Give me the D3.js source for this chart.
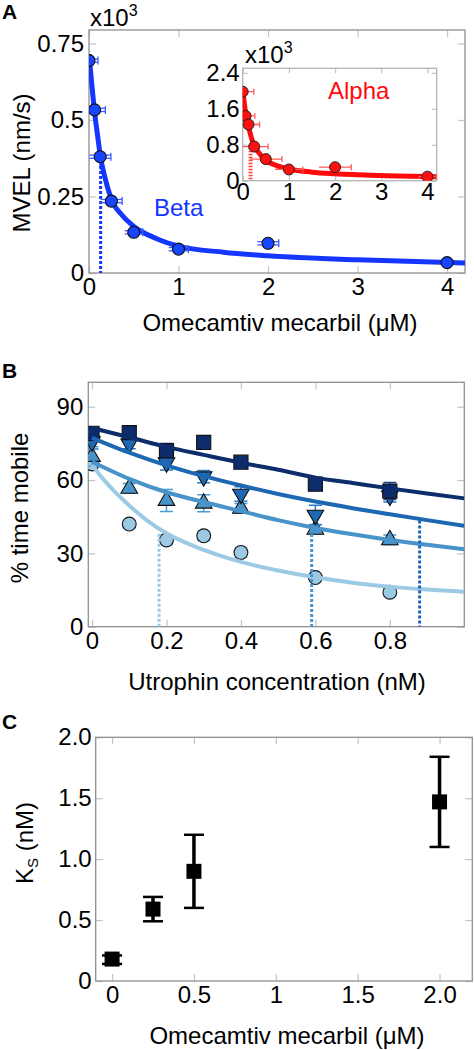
<!DOCTYPE html>
<html><head><meta charset="utf-8">
<script src="https://cdn.jsdelivr.net/npm/d3@7/dist/d3.min.js"></script>
<style>
body{margin:0;background:#fff;}
svg{display:block;font-family:"Liberation Sans",Arial,Helvetica,sans-serif;}
</style></head>
<body>
<svg id="chart" width="474" height="1050"></svg>
<script>
// ---------- Panel A data (MVEL, x10^3 nm/s) ----------
const omConc = [0, 0.0625, 0.125, 0.25, 0.5, 1, 2, 4];
const betaMVEL = [0.694, 0.533, 0.38, 0.235, 0.133, 0.078, 0.097, 0.034];
const betaXErr = [0.1, 0.12, 0.12, 0.12, 0.1, 0.11, 0.12, 0.03];
const betaFitX = [0, 0.03, 0.0625, 0.1, 0.125, 0.18, 0.27, 0.35, 0.5, 0.75, 1, 1.5, 2, 3, 4.2];
const betaFitY = [0.715, 0.62, 0.525, 0.44, 0.385, 0.31, 0.228, 0.195, 0.152, 0.113, 0.088, 0.068, 0.056, 0.043, 0.033];
const betaKi = 0.13, betaKiTop = 0.35;

const alphaMVEL = [1.98, 1.44, 1.25, 0.76, 0.48, 0.25, 0.30, 0.09];
const alphaXErr = [0.24, 0.2, 0.24, 0.3, 0.35, 0.3, 0.35, 0.2];
const alphaFitX = [0, 0.05, 0.12, 0.23, 0.35, 0.48, 0.75, 1, 1.5, 2, 3, 4.2];
const alphaFitY = [2.05, 1.6, 1.24, 0.82, 0.62, 0.47, 0.33, 0.26, 0.19, 0.155, 0.115, 0.09];
const alphaKi = 0.17, alphaKiTop = 0.8;

const aXTicks = [0, 1, 2, 3, 4];
const aYTicks = [0, 0.25, 0.5, 0.75];
const aYTickLabels = ["0", "0.25", "0.5", "0.75"];
const insetYTicks = [0, 0.8, 1.6, 2.4];
const insetYTickLabels = ["0", "0.8", "1.6", "2.4"];

// ---------- Panel B data (% time mobile) ----------
const utrConc = [0, 0.1, 0.2, 0.3, 0.4, 0.6, 0.8];
const seriesSquare = [79.1, 79.4, 72.0, 75.4, 67.3, 58.3, 55.5];
const errSquare = [2, 2, 3, 2.5, 1.5, 1.5, 3.5];
const seriesDown = [75.7, 74.8, 67.1, 61.4, 54.3, 45.7, 53.5];
const errDown = [3, 2, 3, 2.5, 3, 4, 2.5];
const seriesUp = [69.6, 56.6, 51.6, 50.5, 48.4, 39.8, 35.5];
const errUp = [4, 2, 4.5, 3.5, 2, 2, 2];
const seriesCircle = [66.6, 42.0, 35.5, 37.2, 30.4, 20.1, 14.1];
const errCircle = [2, 1.5, 2, 2, 2, 1.5, 1.5];

const fitX = [0, 0.1, 0.2, 0.3, 0.4, 0.5, 0.6, 0.7, 0.8, 0.9, 1.0];
const fitSquare = [81.3, 77.5, 73.6, 70.3, 67.1, 64.2, 61.0, 58.8, 56.6, 54.5, 52.5];
const fitDown = [77.3, 71.2, 66.0, 61.6, 57.8, 54.3, 51.2, 48.5, 46.0, 43.6, 41.3];
const fitUp = [67.5, 60.5, 55.0, 51.0, 47.3, 43.6, 40.4, 37.8, 35.5, 33.5, 31.7];
const fitCircleX = [0, 0.025, 0.05, 0.1, 0.15, 0.2, 0.3, 0.4, 0.5, 0.6, 0.7, 0.8, 0.9, 1.0];
const fitCircle = [66.2, 61.3, 57.0, 49.6, 43.2, 38.2, 31.4, 26.5, 23.0, 20.2, 18.0, 16.4, 15.2, 14.3];
const ksMarks = [0.18, 0.59, 0.88];
const ksMarkTops = [38, 40, 43.5];

const bXTicks = [0, 0.2, 0.4, 0.6, 0.8];
const bXTickLabels = ["0", "0.2", "0.4", "0.6", "0.8"];
const bYTicks = [0, 30, 60, 90];

// ---------- Panel C data (Ks, nM) ----------
const omC = [0, 0.25, 0.5, 2.0];
const ksVal = [0.18, 0.59, 0.9, 1.47];
const ksLo = [0.14, 0.49, 0.6, 1.1];
const ksHi = [0.21, 0.69, 1.2, 1.84];
const cXTicks = [0, 0.5, 1, 1.5, 2];
const cXTickLabels = ["0", "0.5", "1", "1.5", "2.0"];
const cYTicks = [0, 0.5, 1, 1.5, 2];
const cYTickLabels = ["0", "0.5", "1.0", "1.5", "2.0"];

// ---------- styling ----------
const FS = 24;
const frameColor = "#8f8f8f";
const tickColor = "#c4c4c4";
const blue = "#1437ff";
const red = "#ff0a0a";
const cNavy = "#0c2c6c", cMid = "#1d67b3", cLight3 = "#4893c9", cLight4 = "#9ccae5";

const svg = d3.select("#chart");

function frameAxes(g, x, y, opts) {
  const [x0, x1] = x.range(), [y0, y1] = y.range();
  const tl = opts.tickLen || 7;
  const bottom = d3.axisBottom(x).tickValues(opts.xTicks).tickSizeInner(-tl).tickSizeOuter(0)
    .tickPadding(opts.xPad).tickFormat((d, i) => opts.xLabels ? opts.xLabels[i] : d);
  const left = d3.axisLeft(y).tickValues(opts.yTicks).tickSizeInner(-tl).tickSizeOuter(0)
    .tickPadding(opts.yPad).tickFormat((d, i) => opts.yLabels ? opts.yLabels[i] : d);
  const top = d3.axisTop(x).tickValues(opts.xTicks).tickSizeInner(-tl).tickSizeOuter(0).tickFormat("");
  const right = d3.axisRight(y).tickValues(opts.yTicks).tickSizeInner(-tl).tickSizeOuter(0).tickFormat("");
  const gb = g.append("g").attr("transform", `translate(0,${y0})`).call(bottom);
  const gl = g.append("g").attr("transform", `translate(${x0},0)`).call(left);
  const gt = g.append("g").attr("transform", `translate(0,${y1})`).call(top);
  const gr = g.append("g").attr("transform", `translate(${x1},0)`).call(right);
  [gb, gl, gt, gr].forEach(a => {
    a.select(".domain").remove();
    a.selectAll(".tick line").attr("stroke", tickColor).attr("stroke-width", 1.2);
    a.selectAll(".tick text").attr("font-size", opts.fs || FS).attr("fill", "#000")
      .attr("font-family", '"Liberation Sans",Arial,sans-serif');
  });
  g.append("rect").attr("x", x0).attr("y", y1).attr("width", x1 - x0).attr("height", y0 - y1)
    .attr("fill", "none").attr("stroke", opts.frame || frameColor).attr("stroke-width", 1.3);
}

function panelLabel(txt, x, y) {
  svg.append("text").attr("x", x).attr("y", y).attr("font-size", 21).attr("font-weight", "bold").text(txt);
}
function axisTitle(txt, x, y, rot) {
  const t = svg.append("text").attr("font-size", FS).attr("text-anchor", "middle");
  if (rot) t.attr("transform", `translate(${x},${y}) rotate(-90)`);
  else t.attr("x", x).attr("y", y);
  t.text(txt);
  return t;
}
function times103(x, y) {
  const t = svg.append("text").attr("x", x).attr("y", y).attr("font-size", FS);
  t.append("tspan").text("x10");
  t.append("tspan").attr("font-size", 16).attr("dy", -10).text("3");
}

// ================= Panel A =================
const xA = d3.scaleLinear().domain([0, 4.2]).range([89, 465]);
const yA = d3.scaleLinear().domain([0, 0.794]).range([273, 30]);
const gA = svg.append("g");
frameAxes(gA, xA, yA, { xTicks: aXTicks, yTicks: aYTicks, yLabels: aYTickLabels, xPad: 5, yPad: 5 });

const clipA = svg.append("clipPath").attr("id", "clipA").append("rect")
  .attr("x", 89).attr("y", 30).attr("width", 376).attr("height", 243);

const lineA = d3.line().x((d, i) => xA(betaFitX[i])).y(d => yA(d)).curve(d3.curveMonotoneX);
const pA = gA.append("g").attr("clip-path", "url(#clipA)");
pA.append("line").attr("x1", xA(betaKi)).attr("x2", xA(betaKi)).attr("y1", yA(betaKiTop)).attr("y2", yA(0))
  .attr("stroke", blue).attr("stroke-width", 3).attr("stroke-dasharray", "3,2");
pA.append("path").attr("d", lineA(betaFitY)).attr("fill", "none").attr("stroke", blue).attr("stroke-width", 5);
omConc.forEach((c, i) => {
  const yy = yA(betaMVEL[i]);
  const xl = xA(Math.max(0, c - betaXErr[i])), xr = xA(c + betaXErr[i]);
  pA.append("line").attr("x1", xl).attr("x2", xr).attr("y1", yy - 1.6).attr("y2", yy - 1.6).attr("stroke", "#3a5cff").attr("stroke-width", 1.3);
  pA.append("line").attr("x1", xl).attr("x2", xr).attr("y1", yy + 1.6).attr("y2", yy + 1.6).attr("stroke", "#3a5cff").attr("stroke-width", 1.3);
  pA.append("line").attr("x1", xr).attr("x2", xr).attr("y1", yy - 4).attr("y2", yy + 4).attr("stroke", "#3a5cff").attr("stroke-width", 1.3);
});
pA.selectAll("circle.beta").data(betaMVEL).enter().append("circle")
  .attr("cx", (d, i) => xA(omConc[i])).attr("cy", d => yA(d)).attr("r", 6)
  .attr("fill", "#1846ff").attr("stroke", "#111").attr("stroke-width", 1.1);
svg.append("text").attr("x", 154).attr("y", 216).attr("font-size", FS).attr("fill", blue).text("Beta");
times103(90, 26);

// inset
const xI = d3.scaleLinear().domain([0, 4.2]).range([242.7, 436.7]);
const yI = d3.scaleLinear().domain([0, 2.5]).range([180.7, 68.3]);
const gI = svg.append("g");
gI.append("rect").attr("x", 242.7).attr("y", 68.3).attr("width", 194).attr("height", 112.4).attr("fill", "#fff");
frameAxes(gI, xI, yI, { xTicks: aXTicks, yTicks: insetYTicks, yLabels: insetYTickLabels, xPad: 2, yPad: 3, frame: "#b5b5b5", tickLen: 5 });
svg.append("clipPath").attr("id", "clipI").append("rect")
  .attr("x", 242.7).attr("y", 68.3).attr("width", 194).attr("height", 112.4);
const pI = gI.append("g").attr("clip-path", "url(#clipI)");
pI.append("line").attr("x1", xI(alphaKi)).attr("x2", xI(alphaKi)).attr("y1", yI(alphaKiTop)).attr("y2", yI(0))
  .attr("stroke", "#ff4040").attr("stroke-width", 4).attr("stroke-dasharray", "1.5,1.5");
const lineI = d3.line().x((d, i) => xI(alphaFitX[i])).y(d => yI(d)).curve(d3.curveMonotoneX);
pI.append("path").attr("d", lineI(alphaFitY)).attr("fill", "none").attr("stroke", red).attr("stroke-width", 5);
omConc.forEach((c, i) => {
  const yy = yI(alphaMVEL[i]);
  const xl = xI(Math.max(0, c - alphaXErr[i])), xr = xI(c + alphaXErr[i]);
  pI.append("line").attr("x1", xl).attr("x2", xr).attr("y1", yy).attr("y2", yy).attr("stroke", "#ff5a5a").attr("stroke-width", 1.3);
  pI.append("line").attr("x1", xr).attr("x2", xr).attr("y1", yy - 3).attr("y2", yy + 3).attr("stroke", "#ff5a5a").attr("stroke-width", 1.3);
});
pI.selectAll("circle.alpha").data(alphaMVEL).enter().append("circle")
  .attr("cx", (d, i) => xI(omConc[i])).attr("cy", d => yI(d)).attr("r", 5.5)
  .attr("fill", "#ff1010").attr("stroke", "#222").attr("stroke-width", 1);
svg.append("text").attr("x", 328).attr("y", 99).attr("font-size", FS).attr("fill", red).text("Alpha");
times103(245, 63);

axisTitle("Omecamtiv mecarbil (μM)", 280, 331, false);
axisTitle("MVEL (nm/s)", 30, 163, true);
panelLabel("A", 2, 19);

// ================= Panel B =================
const xB = d3.scaleLinear().domain([-0.01, 1.0]).range([88.3, 464.3]);
const yB = d3.scaleLinear().domain([0, 100]).range([626.7, 382.3]);
const gB = svg.append("g");
frameAxes(gB, xB, yB, { xTicks: bXTicks, xLabels: bXTickLabels, yTicks: bYTicks, xPad: 5, yPad: 5 });
svg.append("clipPath").attr("id", "clipB").append("rect")
  .attr("x", 88.3).attr("y", 382.3).attr("width", 376).attr("height", 244.4);
const pB = gB.append("g").attr("clip-path", "url(#clipB)");

const seriesB = [
  { vals: seriesCircle, err: errCircle, fill: cLight4, errC: "#8cc3e6", shape: d3.symbolCircle, size: 150, rot: 0 },
  { vals: seriesUp, err: errUp, fill: cLight3, errC: "#4a9ad6", shape: d3.symbolTriangle, size: 120, rot: 0 },
  { vals: seriesDown, err: errDown, fill: cMid, errC: "#2a78c8", shape: d3.symbolTriangle, size: 120, rot: 180 },
  { vals: seriesSquare, err: errSquare, fill: cNavy, errC: "#1d3f86", shape: d3.symbolSquare, size: 200, rot: 0 }
];
seriesB.forEach(s => {
  utrConc.forEach((c, i) => {
    const xx = xB(c), lo = yB(s.vals[i] - s.err[i]), hi = yB(s.vals[i] + s.err[i]);
    pB.append("line").attr("x1", xx).attr("x2", xx).attr("y1", lo).attr("y2", hi).attr("stroke", s.errC).attr("stroke-width", 1.5);
    [lo, hi].forEach(yy => pB.append("line").attr("x1", xx - 6.5).attr("x2", xx + 6.5).attr("y1", yy).attr("y2", yy)
      .attr("stroke", s.errC).attr("stroke-width", 1.5));
  });
  pB.selectAll(null).data(s.vals).enter().append("path")
    .attr("d", d3.symbol().type(s.shape).size(s.size))
    .attr("transform", (d, i) => `translate(${xB(utrConc[i])},${yB(d)}) rotate(${s.rot})`)
    .attr("fill", s.fill).attr("stroke", "#111").attr("stroke-width", 1.1);
});
const fitsB = [
  { xs: fitCircleX, ys: fitCircle, c: cLight4 },
  { xs: fitX, ys: fitUp, c: cLight3 },
  { xs: fitX, ys: fitDown, c: cMid },
  { xs: fitX, ys: fitSquare, c: cNavy }
];
fitsB.forEach(f => {
  const ln = d3.line().x((d, i) => xB(f.xs[i])).y(d => yB(d)).curve(d3.curveMonotoneX);
  pB.append("path").attr("d", ln(f.ys)).attr("fill", "none").attr("stroke", f.c).attr("stroke-width", 4);
});
const ksColors = [cLight4, cLight3, cMid];
ksMarks.forEach((k, i) => {
  pB.append("line").attr("x1", xB(k)).attr("x2", xB(k)).attr("y1", yB(ksMarkTops[i])).attr("y2", yB(0))
    .attr("stroke", ksColors[i]).attr("stroke-width", 3).attr("stroke-dasharray", "3,2");
});
axisTitle("Utrophin concentration (nM)", 277, 690, false);
axisTitle("% time mobile", 28, 508, true);
panelLabel("B", 2, 378);

// ================= Panel C =================
const xC = d3.scaleLinear().domain([-0.1, 2.2]).range([95.7, 472.3]);
const yC = d3.scaleLinear().domain([0, 2]).range([981, 737.3]);
const gC = svg.append("g");
frameAxes(gC, xC, yC, { xTicks: cXTicks, xLabels: cXTickLabels, yTicks: cYTicks, yLabels: cYTickLabels, xPad: 5, yPad: 4 });
omC.forEach((c, i) => {
  const xx = xC(c), lo = yC(ksLo[i]), hi = yC(ksHi[i]);
  gC.append("line").attr("x1", xx).attr("x2", xx).attr("y1", lo).attr("y2", hi).attr("stroke", "#000").attr("stroke-width", 3.5);
  [lo, hi].forEach(yy => gC.append("line").attr("x1", xx - 10).attr("x2", xx + 10).attr("y1", yy).attr("y2", yy)
    .attr("stroke", "#000").attr("stroke-width", 2.5));
});
gC.selectAll(null).data(ksVal).enter().append("rect")
  .attr("x", (d, i) => xC(omC[i]) - 7.5).attr("y", d => yC(d) - 7.5)
  .attr("width", 15).attr("height", 15).attr("fill", "#000");
const ksTitle = svg.append("text").attr("font-size", FS).attr("text-anchor", "middle")
  .attr("transform", "translate(33,843) rotate(-90)");
ksTitle.append("tspan").text("K");
ksTitle.append("tspan").attr("font-size", 15).attr("dy", 5).text("S");
ksTitle.append("tspan").attr("dy", -5).text(" (nM)");
axisTitle("Omecamtiv mecarbil (μM)", 287, 1044, false);
panelLabel("C", 2, 729);
</script>
</body></html>
